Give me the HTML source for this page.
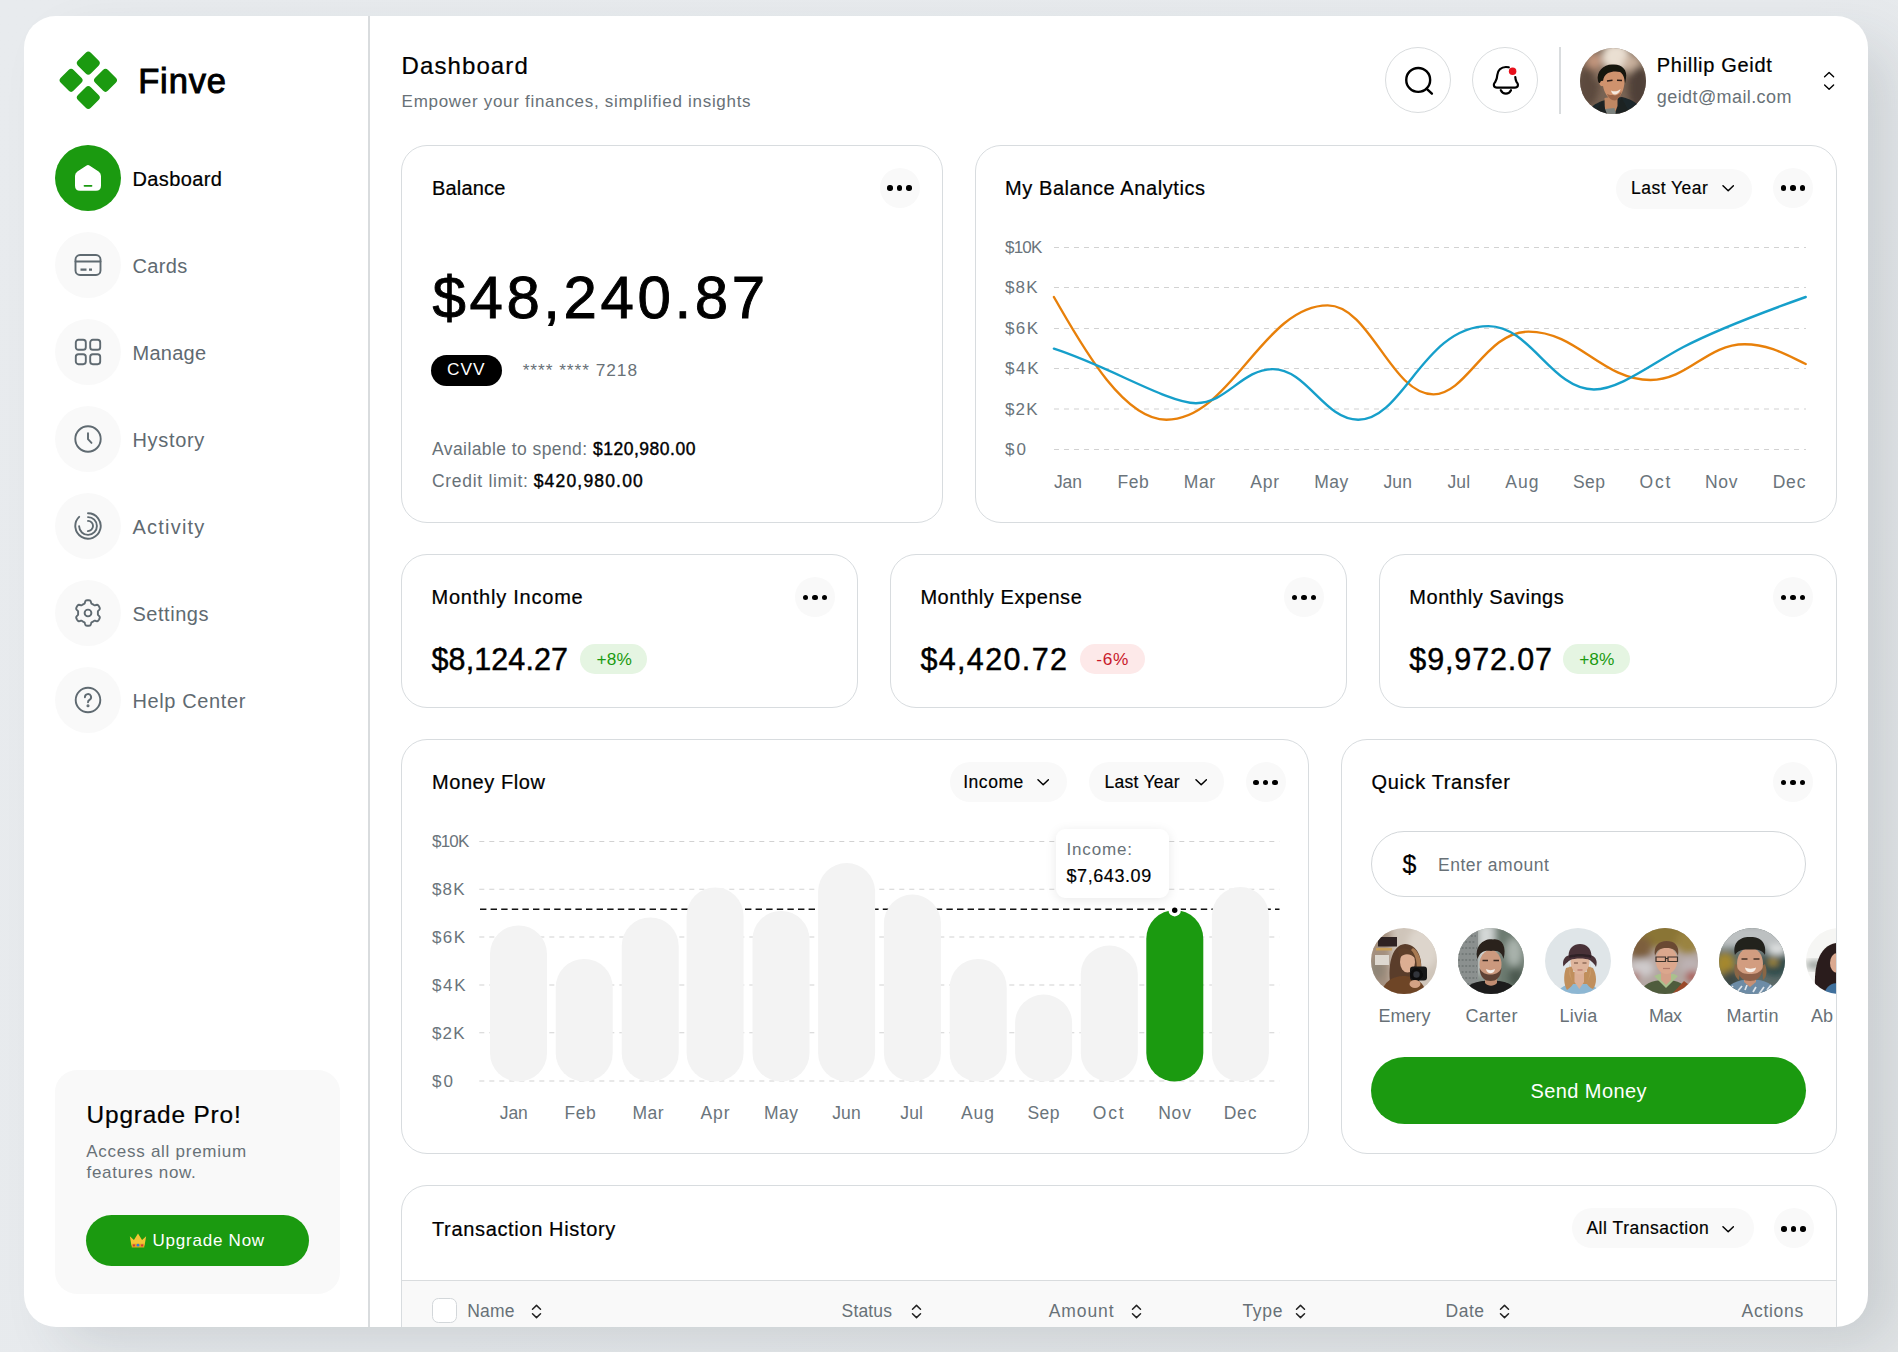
<!DOCTYPE html>
<html>
<head>
<meta charset="utf-8">
<title>Finve Dashboard</title>
<style>
*{box-sizing:border-box;margin:0;padding:0}
html,body{width:1898px;height:1352px;overflow:hidden}
body{font-family:"Liberation Sans",sans-serif;background:#e7eaed;position:relative;color:#000}
#bg{position:absolute;left:0;top:0;width:1898px;height:1352px;background:linear-gradient(135deg,#e8ebee 0%,#e7eaed 55%,#e2e5e7 100%)}
#panel{position:absolute;left:24px;top:16px;width:1844px;height:1311px;background:#fff;border-radius:32px;box-shadow:30px 22px 56px -8px rgba(50,60,70,.15);overflow:hidden}
#in{position:absolute;left:-24px;top:-16px;width:1898px;height:1352px}
#in div,#in span,#in svg,#in i{position:absolute}
.t{white-space:nowrap;line-height:1}
.card{border:1.5px solid #d8dcdf;border-radius:26px;background:#fff}
.dots{width:40px;height:40px;border-radius:50%;background:#f9f9f9}
.dots i{top:17.9px;width:5.400px;height:5.400px;border-radius:50%;background:#000}
.dots i:nth-child(1){left:7.800px}.dots i:nth-child(2){left:17.300px}.dots i:nth-child(3){left:26.800px}
.nav{left:55px;width:66px;height:66px;border-radius:50%;background:#f9f9f9}
.nav svg{left:19px;top:19px;width:28px;height:28px;fill:none;stroke:#5f6a71;stroke-width:1.9;stroke-linecap:round;stroke-linejoin:round}
.pill{height:40px;border-radius:20px;background:#f9f9f9}
</style>
</head>
<body>
<div id="bg"></div>
<div id="panel"><div id="in">
<!-- sidebar -->
<div style="left:368px;top:16px;width:1.5px;height:1312px;background:#d9dcde"></div>
<svg style="left:58px;top:50px;width:61px;height:61px" viewBox="0 0 61 61"><g fill="#1b9a10"><rect x="21.20" y="4.00" width="18.2" height="18.2" rx="3.6" transform="rotate(45 30.3 13.100000000000001)"/><rect x="4.00" y="21.20" width="18.2" height="18.2" rx="3.6" transform="rotate(45 13.100000000000001 30.3)"/><rect x="38.40" y="21.20" width="18.2" height="18.2" rx="3.6" transform="rotate(45 47.5 30.3)"/><rect x="21.20" y="38.40" width="18.2" height="18.2" rx="3.6" transform="rotate(45 30.3 47.5)"/></g></svg>
<span class="t" style="left:138.2px;top:64.0px;font-size:34.5px;color:#000;letter-spacing:0.86px;-webkit-text-stroke:0.95px #000;">Finve</span>
<div class="nav" style="top:144.8px;background:#1b9a10;"><svg viewBox="0 0 28 28" style="stroke:none;fill:#fff"><path d="M12.2 1.700Q14 .5 15.800 1.700L24.600 7.600Q27 9.200 27 12V21.800Q27 26.800 22 26.800H6Q1 26.800 1 21.800V12Q1 9.200 3.400 7.600Z"/><rect x="9.600" y="20.900" width="8.800" height="1.800" rx=".9" fill="#1b9a10"/></svg></div>
<span class="t" style="left:132.5px;top:168.5px;font-size:20px;color:#000;letter-spacing:0.37px;-webkit-text-stroke:0.22px #000;">Dasboard</span>
<div class="nav" style="top:231.8px;"><svg viewBox="0 0 28 28"><rect x="1.5" y="4" width="25" height="20" rx="4.5"/><path d="M1.5 10.5H26.5"/><path d="M6.5 18.6h6M15 18.6h3" stroke-width="2.2" stroke-linecap="butt"/></svg></div>
<span class="t" style="left:132.5px;top:255.5px;font-size:20px;color:#5f6a71;letter-spacing:0.34px;">Cards</span>
<div class="nav" style="top:318.8px;"><svg viewBox="0 0 28 28"><rect x="1.8" y="1.8" width="10" height="10" rx="2.6"/><rect x="16.2" y="1.8" width="10" height="10" rx="2.6"/><rect x="1.8" y="16.2" width="10" height="10" rx="2.6"/><rect x="16.2" y="16.2" width="10" height="10" rx="2.6"/></svg></div>
<span class="t" style="left:132.5px;top:342.5px;font-size:20px;color:#5f6a71;letter-spacing:0.26px;">Manage</span>
<div class="nav" style="top:405.8px;"><svg viewBox="0 0 28 28"><circle cx="14" cy="14" r="12.7"/><path d="M14 8.3V14.2L17.5 17.9"/></svg></div>
<span class="t" style="left:132.5px;top:429.5px;font-size:20px;color:#5f6a71;letter-spacing:0.67px;">Hystory</span>
<div class="nav" style="top:492.8px;"><svg viewBox="0 0 28 28"><path d="M14 1.30A12.7 12.7 0 1 1 5.18 4.86"/><path d="M14 5.10A8.9 8.9 0 1 1 5.11 14.31"/><path d="M14 8.90A5.1 5.1 0 1 1 13.82 19.10"/></svg></div>
<span class="t" style="left:132.5px;top:516.5px;font-size:20px;color:#5f6a71;letter-spacing:1.21px;">Activity</span>
<div class="nav" style="top:579.8px;"><svg viewBox="0 0 28 28"><circle cx="14" cy="14" r="3.4"/><path d="M23.90 14.00L23.89 13.48L23.87 12.96L23.89 12.43L24.15 11.84L24.96 11.06L25.72 10.19L25.84 9.45L25.67 8.80L25.40 8.19L25.09 7.60L24.73 7.03L24.33 6.49L23.86 6.02L23.16 5.75L22.03 5.97L20.94 6.29L20.30 6.22L19.83 5.97L19.39 5.69L18.95 5.43L18.50 5.17L18.04 4.93L17.59 4.65L17.21 4.13L16.94 3.04L16.56 1.94L15.98 1.47L15.34 1.30L14.67 1.22L14.00 1.20L13.33 1.22L12.66 1.30L12.02 1.47L11.44 1.94L11.06 3.04L10.79 4.13L10.41 4.65L9.96 4.93L9.50 5.17L9.05 5.43L8.61 5.69L8.17 5.97L7.70 6.22L7.06 6.29L5.97 5.97L4.84 5.75L4.14 6.02L3.67 6.49L3.27 7.03L2.91 7.60L2.60 8.19L2.33 8.80L2.16 9.45L2.28 10.19L3.04 11.06L3.85 11.84L4.11 12.43L4.13 12.96L4.11 13.48L4.10 14.00L4.11 14.52L4.13 15.04L4.11 15.57L3.85 16.16L3.04 16.94L2.28 17.81L2.16 18.55L2.33 19.20L2.60 19.81L2.91 20.40L3.27 20.97L3.67 21.51L4.14 21.98L4.84 22.25L5.97 22.03L7.06 21.71L7.70 21.78L8.17 22.03L8.61 22.31L9.05 22.57L9.50 22.83L9.96 23.07L10.41 23.35L10.79 23.87L11.06 24.96L11.44 26.06L12.02 26.53L12.66 26.70L13.33 26.78L14.00 26.80L14.67 26.78L15.34 26.70L15.98 26.53L16.56 26.06L16.94 24.96L17.21 23.87L17.59 23.35L18.04 23.07L18.50 22.83L18.95 22.57L19.39 22.31L19.83 22.03L20.30 21.78L20.94 21.71L22.03 22.03L23.16 22.25L23.86 21.98L24.33 21.51L24.73 20.97L25.09 20.40L25.40 19.81L25.67 19.20L25.84 18.55L25.72 17.81L24.96 16.94L24.15 16.16L23.89 15.57L23.87 15.04L23.89 14.52Z"/></svg></div>
<span class="t" style="left:132.5px;top:603.5px;font-size:20px;color:#5f6a71;letter-spacing:0.53px;">Settings</span>
<div class="nav" style="top:666.8px;"><svg viewBox="0 0 28 28"><circle cx="14" cy="14" r="12.3"/><path d="M10.9 11.2a3.1 3.1 0 1 1 4.6 2.7c-1 .6-1.5 1.2-1.5 2.3"/><circle cx="14" cy="19.8" r=".6" fill="#5f6a71"/></svg></div>
<span class="t" style="left:132.5px;top:690.5px;font-size:20px;color:#5f6a71;letter-spacing:0.62px;">Help Center</span>
<div style="left:55px;top:1070px;width:285px;height:224px;border-radius:22px;background:#f9f9f9"></div>
<span class="t" style="left:86.6px;top:1103.4px;font-size:24.4px;color:#000;letter-spacing:0.82px;-webkit-text-stroke:0.22px #000;">Upgrade Pro!</span>
<span class="t" style="left:86.2px;top:1142.5px;font-size:17px;color:#687177;letter-spacing:0.74px;">Access all premium</span>
<span class="t" style="left:86.6px;top:1164.0px;font-size:17px;color:#687177;letter-spacing:0.67px;">features now.</span>
<div style="left:86px;top:1215px;width:222.5px;height:50.5px;border-radius:25.5px;background:#1b9a10"></div>
<span class="t" style="left:152.5px;top:1231.6px;font-size:17px;color:#fff;letter-spacing:0.77px;">Upgrade Now</span>
<svg style="left:128.5px;top:1232.5px;width:18px;height:15.5px" viewBox="0 0 18 16"><path d="M.6 3.4l4.2 3.800L9 .6l4.200 6.600 4.200-3.800L15.800 13H2.200z" fill="#f4c534"/><path d="M2.200 11h13.600l-.4 4H2.600z" fill="#e0a126"/><circle cx="9" cy="12.600" r="1.400" fill="#2f7fd6"/><circle cx="4.800" cy="12.800" r="1.100" fill="#d8343b"/><circle cx="13.200" cy="12.800" r="1.100" fill="#d8343b"/></svg>
<!-- header -->
<span class="t" style="left:401.6px;top:53.7px;font-size:24px;color:#000;letter-spacing:1.09px;-webkit-text-stroke:0.22px #000;">Dashboard</span>
<span class="t" style="left:401.6px;top:93.1px;font-size:17px;color:#687177;letter-spacing:0.70px;">Empower your finances, simplified insights</span>
<div style="left:1385px;top:47px;width:66px;height:66px;border-radius:50%;border:1.5px solid #d9dcde"></div>
<svg style="left:1385.5px;top:47px;width:66px;height:66px;fill:none;stroke:#000;stroke-width:2.4;stroke-linecap:round" viewBox="0 0 66 66"><circle cx="32.2" cy="32.9" r="11.95"/><path d="M41.300 42.300L45.900 46.700"/></svg>
<div style="left:1472px;top:47px;width:66px;height:66px;border-radius:50%;border:1.5px solid #d9dcde"></div>
<svg style="left:1472.500px;top:47px;width:66px;height:66px;fill:none;stroke:#000;stroke-width:2.200;stroke-linecap:round;stroke-linejoin:round" viewBox="0 0 66 66"><path d="M35.800 20.300C34.900 20.100 33.900 20 32.900 20C28 20 24.600 23.500 24.300 28C24.100 31.500 23.500 33 22.300 34.800C21.300 36.300 20.400 37.200 20.900 38.600C21.400 40.200 22.600 40.600 24 40.600H41.800C43.200 40.600 44.400 40.200 44.900 38.600C45.400 37.200 44.500 36.300 43.500 34.800C42.700 33.500 42.400 32 42.300 30"/><path d="M27.800 43.200C28.900 45.500 30.700 46.700 32.900 46.700C35.100 46.700 36.900 45.500 38 43.200"/><circle cx="39.600" cy="24.200" r="3.750" fill="#e8101c" stroke="none"/></svg>
<div style="left:1559px;top:47px;width:1.5px;height:67px;background:#d9dcde"></div>
<svg style="left:1580.0px;top:47.5px;width:66px;height:66px" viewBox="0 0 66 66"><defs><clipPath id="cP"><circle cx="33" cy="33" r="33"/></clipPath><filter id="fP" x="-20%" y="-20%" width="140%" height="140%"><feGaussianBlur stdDeviation="0.55"/></filter><filter id="gP" x="-30%" y="-30%" width="160%" height="160%"><feGaussianBlur stdDeviation="3.5"/></filter></defs><g clip-path="url(#cP)"><rect width="66" height="66" fill="#7a6555"/>
<g filter="url(#gP)"><ellipse cx="36" cy="9" rx="14" ry="14" fill="#eadfd2"/><ellipse cx="52" cy="16" rx="9" ry="9" fill="#c9b19d"/><ellipse cx="8" cy="38" rx="11" ry="20" fill="#5b493c"/><ellipse cx="59" cy="40" rx="11" ry="22" fill="#4f4037"/><ellipse cx="14" cy="13" rx="8" ry="8" fill="#c2957d"/><ellipse cx="20" cy="26" rx="6" ry="6" fill="#8d7563"/></g>
<g filter="url(#fP)"><path d="M8 66C10 58 15 56 22 53L33 50L42 49C50 51 57 54 60 60V66Z" fill="#1f2729"/>
<path d="M24.500 50L37.500 48V58L34.500 66H25Z" fill="#bf8763"/><path d="M25 61L34.500 60L36 66H24Z" fill="#7c827e"/>
<path d="M22 53L27 66H14ZM41.500 49.500L35.500 66H50Z" fill="#1a2122"/>
<path d="M23 31C22 24 30 21.500 35 22C41 22 45 26 44.500 33C44.500 41 41 50 34.500 52.500C28 52 24 44 23 38C20 39 18.500 35 20 33.500C21 32.500 22.500 33 23 31Z" fill="#cf926d"/>
<path d="M33 47C36 48.500 40 46 41.500 43C41 48 38 52 34.500 52.500C31 52.500 28 49 27 46C29 47 31 47 33 47Z" fill="#9a6549"/>
<path d="M18 33C16 23 24 16 33 16.500C42 16 47.500 22 46 30C45.600 32.500 45.500 34 45 35C44.500 29 43 26 40 24C36 23 31 23.500 28 25C25 26.500 23.500 29.500 23 33C21.500 32.500 20.500 33 20 35C19 35 18.500 34.500 18 33Z" fill="#17120f"/>
<path d="M31 42.500C34 44 38 43.500 40.500 41C40 44.500 37 46.500 34.500 46.500C32.500 46.500 31.500 44.500 31 42.500Z" fill="#f4e8de"/>
<path d="M27 33l5.500-.8M37 32.200l5 .3" stroke="#2e1c14" stroke-width="1.500"/></g></g></svg>
<span class="t" style="left:1656.8px;top:55.1px;font-size:20px;color:#000;letter-spacing:0.69px;-webkit-text-stroke:0.22px #000;">Phillip Geidt</span>
<span class="t" style="left:1656.8px;top:88.3px;font-size:18px;color:#687177;letter-spacing:0.41px;">geidt@mail.com</span>
<svg style="left:1822px;top:70px;width:14px;height:22px;fill:none;stroke:#000;stroke-width:1.4;stroke-linecap:round;stroke-linejoin:round" viewBox="0 0 14 22"><path d="M2.600 6.800L7.100 2.600l4.500 4.200M2.600 15l4.500 4.200 4.500-4.200"/></svg>
<!-- balance -->
<div class="card" style="left:401px;top:145px;width:542px;height:378px;"></div>
<span class="t" style="left:432.0px;top:177.9px;font-size:20px;color:#000;letter-spacing:0.17px;-webkit-text-stroke:0.22px #000;">Balance</span>
<div class="dots" style="left:879.5px;top:167.5px"><i></i><i></i><i></i></div>
<span class="t" style="left:432.5px;top:267.7px;font-size:60px;color:#000;letter-spacing:3.58px;-webkit-text-stroke:0.9px #000;">$48,240.87</span>
<div style="left:431.4px;top:354.5px;width:70.7px;height:31px;border-radius:15.5px;background:#000"></div>
<span class="t" style="left:447.0px;top:361.1px;font-size:17.3px;color:#fff;letter-spacing:0.96px;">CVV</span>
<span class="t" style="left:522.7px;top:361.5px;font-size:17.3px;color:#687177;letter-spacing:0.96px;">**** **** 7218</span>
<span class="t" style="left:432.0px;top:441.0px;font-size:17.5px;color:#687177;letter-spacing:0.42px;">Available to spend:</span>
<span class="t" style="left:593.0px;top:441.0px;font-size:17.5px;color:#000;letter-spacing:0.51px;-webkit-text-stroke:0.4px #000;">$120,980.00</span>
<span class="t" style="left:432.0px;top:473.1px;font-size:17.5px;color:#687177;letter-spacing:0.70px;">Credit limit:</span>
<span class="t" style="left:533.7px;top:473.1px;font-size:17.5px;color:#000;letter-spacing:1.18px;-webkit-text-stroke:0.4px #000;">$420,980.00</span>
<!-- analytics -->
<div class="card" style="left:975px;top:145px;width:862px;height:378px;"></div>
<span class="t" style="left:1005.0px;top:178.1px;font-size:20px;color:#000;letter-spacing:0.58px;-webkit-text-stroke:0.22px #000;">My Balance Analytics</span>
<div class="pill" style="left:1616px;top:168.5px;width:136px"></div>
<span class="t" style="left:1631.0px;top:179.7px;font-size:17.5px;color:#000;letter-spacing:0.48px;-webkit-text-stroke:0.18px #000;">Last Year</span>
<svg style="left:1721.5px;top:184.3px;width:12.400px;height:8px;fill:none;stroke:#000;stroke-width:1.500;stroke-linecap:round;stroke-linejoin:round" viewBox="0 0 12.400 8"><path d="M1 1.800L6.200 6.800 11.400 1.800"/></svg>
<div class="dots" style="left:1773.0px;top:167.5px"><i></i><i></i><i></i></div>
<svg style="left:0;top:0;width:1898px;height:560px" viewBox="0 0 1898 560" fill="none"><path d="M1054 247.5H1806" stroke="#d2d2d2" stroke-width="1.1" stroke-dasharray="5 5"/><path d="M1054 287.5H1806" stroke="#d2d2d2" stroke-width="1.1" stroke-dasharray="5 5"/><path d="M1054 328.5H1806" stroke="#d2d2d2" stroke-width="1.1" stroke-dasharray="5 5"/><path d="M1054 368.5H1806" stroke="#d2d2d2" stroke-width="1.1" stroke-dasharray="5 5"/><path d="M1054 409H1806" stroke="#d2d2d2" stroke-width="1.1" stroke-dasharray="5 5"/><path d="M1054 449.5H1806" stroke="#d2d2d2" stroke-width="1.1" stroke-dasharray="5 5"/><path d="M1053.9 297C1078.9 340 1121.4 419.7 1166.4 419.7C1230.9 419.7 1263.2 305.4 1327.7 305.4C1370.0 305.4 1391.2 394.4 1433.5 394.4C1466.8 394.4 1485.8 331.6 1528.5 331.6C1577.3 331.6 1601.7 380.0 1650.5 380.0C1688.1 380.0 1706.9 344.2 1744.5 344.2C1769.5 344.2 1787.7 355.5 1805.7 364" stroke="#e8800a" stroke-width="2.4" stroke-linecap="round"/><path d="M1053.9 348.7C1108.9 366.3 1168 403.2 1196 403.2C1226.8 403.2 1242.1 369.1 1272.9 369.1C1307.0 369.1 1324.1 419.7 1358.2 419.7C1403.8 419.7 1423.3 326.1 1488.5 326.1C1530.7 326.1 1551.7 389.5 1593.9 389.5C1619.9 389.5 1653.4 362.6 1683.4 347C1713.4 331.4 1765.7 311.3 1805.7 297" stroke="#169fca" stroke-width="2.4" stroke-linecap="round"/></svg>
<span class="t" style="left:1005.0px;top:239.2px;font-size:17px;color:#6a747b;letter-spacing:-0.80px;">$10K</span>
<span class="t" style="left:1005.0px;top:279.2px;font-size:17px;color:#6a747b;letter-spacing:1.13px;">$8K</span>
<span class="t" style="left:1005.0px;top:320.2px;font-size:17px;color:#6a747b;letter-spacing:1.38px;">$6K</span>
<span class="t" style="left:1005.0px;top:360.2px;font-size:17px;color:#6a747b;letter-spacing:1.63px;">$4K</span>
<span class="t" style="left:1005.0px;top:400.7px;font-size:17px;color:#6a747b;letter-spacing:1.13px;">$2K</span>
<span class="t" style="left:1005.0px;top:441.2px;font-size:17px;color:#6a747b;letter-spacing:2.09px;">$0</span>
<span class="t" style="left:1053.9px;top:473.7px;font-size:17.5px;color:#6a747b;letter-spacing:-0.11px;">Jan</span>
<span class="t" style="left:1117.4px;top:473.7px;font-size:17.5px;color:#6a747b;letter-spacing:0.57px;">Feb</span>
<span class="t" style="left:1183.8px;top:473.7px;font-size:17.5px;color:#6a747b;letter-spacing:0.58px;">Mar</span>
<span class="t" style="left:1250.2px;top:473.7px;font-size:17.5px;color:#6a747b;letter-spacing:0.83px;">Apr</span>
<span class="t" style="left:1314.2px;top:473.7px;font-size:17.5px;color:#6a747b;letter-spacing:0.52px;">May</span>
<span class="t" style="left:1383.4px;top:473.7px;font-size:17.5px;color:#6a747b;letter-spacing:0.14px;">Jun</span>
<span class="t" style="left:1447.4px;top:473.7px;font-size:17.5px;color:#6a747b;letter-spacing:0.21px;">Jul</span>
<span class="t" style="left:1505.3px;top:473.7px;font-size:17.5px;color:#6a747b;letter-spacing:1.03px;">Aug</span>
<span class="t" style="left:1573.1px;top:473.7px;font-size:17.5px;color:#6a747b;letter-spacing:0.33px;">Sep</span>
<span class="t" style="left:1639.5px;top:473.7px;font-size:17.5px;color:#6a747b;letter-spacing:1.79px;">Oct</span>
<span class="t" style="left:1704.9px;top:473.7px;font-size:17.5px;color:#6a747b;letter-spacing:0.79px;">Nov</span>
<span class="t" style="left:1772.7px;top:473.7px;font-size:17.5px;color:#6a747b;letter-spacing:0.79px;">Dec</span>
<!-- stats -->
<div class="card" style="left:401px;top:554.3px;width:457px;height:153.6px;"></div>
<span class="t" style="left:431.5px;top:587.1px;font-size:20px;color:#000;letter-spacing:0.77px;-webkit-text-stroke:0.22px #000;">Monthly Income</span>
<div class="dots" style="left:795.0px;top:577.0px"><i></i><i></i><i></i></div>
<span class="t" style="left:431.5px;top:643.7px;font-size:30.5px;color:#000;letter-spacing:0.10px;-webkit-text-stroke:0.45px #000;">$8,124.27</span>
<div style="left:580.4px;top:643.7px;width:67px;height:30.5px;border-radius:15.3px;background:#e5f5e2"></div>
<span class="t" style="left:596.6px;top:650.6px;font-size:17.3px;color:#1b9a10;letter-spacing:0.05px;">+8%</span>
<div class="card" style="left:890px;top:554.3px;width:457px;height:153.6px;"></div>
<span class="t" style="left:920.4px;top:587.1px;font-size:20px;color:#000;letter-spacing:0.57px;-webkit-text-stroke:0.22px #000;">Monthly Expense</span>
<div class="dots" style="left:1284.0px;top:577.0px"><i></i><i></i><i></i></div>
<span class="t" style="left:920.4px;top:643.7px;font-size:30.5px;color:#000;letter-spacing:1.36px;-webkit-text-stroke:0.45px #000;">$4,420.72</span>
<div style="left:1079.5px;top:643.7px;width:65px;height:30.5px;border-radius:15.3px;background:#fde9e9"></div>
<span class="t" style="left:1096.2px;top:650.6px;font-size:17.3px;color:#c8182a;letter-spacing:0.72px;">-6%</span>
<div class="card" style="left:1379px;top:554.3px;width:457.5px;height:153.6px;"></div>
<span class="t" style="left:1409.3px;top:587.1px;font-size:20px;color:#000;letter-spacing:0.55px;-webkit-text-stroke:0.22px #000;">Monthly Savings</span>
<div class="dots" style="left:1773.0px;top:577.0px"><i></i><i></i><i></i></div>
<span class="t" style="left:1409.3px;top:643.7px;font-size:30.5px;color:#000;letter-spacing:0.88px;-webkit-text-stroke:0.45px #000;">$9,972.07</span>
<div style="left:1563px;top:643.7px;width:67px;height:30.5px;border-radius:15.3px;background:#e5f5e2"></div>
<span class="t" style="left:1579.2px;top:650.6px;font-size:17.3px;color:#1b9a10;letter-spacing:0.05px;">+8%</span>
<!-- money flow -->
<div class="card" style="left:401px;top:739.3px;width:908px;height:414.6px;"></div>
<span class="t" style="left:432.0px;top:771.7px;font-size:20px;color:#000;letter-spacing:0.56px;-webkit-text-stroke:0.22px #000;">Money Flow</span>
<div class="pill" style="left:949.5px;top:762.3px;width:117px"></div>
<span class="t" style="left:963.2px;top:773.7px;font-size:17.5px;color:#000;letter-spacing:0.54px;-webkit-text-stroke:0.18px #000;">Income</span>
<svg style="left:1037px;top:778px;width:12.400px;height:8px;fill:none;stroke:#000;stroke-width:1.500;stroke-linecap:round;stroke-linejoin:round" viewBox="0 0 12.400 8"><path d="M1 1.800L6.200 6.800 11.400 1.800"/></svg>
<div class="pill" style="left:1088.5px;top:762.3px;width:135px"></div>
<span class="t" style="left:1104.4px;top:773.7px;font-size:17.5px;color:#000;letter-spacing:0.28px;-webkit-text-stroke:0.18px #000;">Last Year</span>
<svg style="left:1194.5px;top:778px;width:12.400px;height:8px;fill:none;stroke:#000;stroke-width:1.500;stroke-linecap:round;stroke-linejoin:round" viewBox="0 0 12.400 8"><path d="M1 1.800L6.200 6.800 11.400 1.800"/></svg>
<div class="dots" style="left:1245.6px;top:762.1px"><i></i><i></i><i></i></div>
<svg style="left:0;top:700px;width:1898px;height:460px" viewBox="0 700 1898 460" fill="none"><path d="M479.300 841.5H1279.500" stroke="#d2d2d2" stroke-width="1.1" stroke-dasharray="5 5"/><path d="M479.300 889.3H1279.500" stroke="#d2d2d2" stroke-width="1.1" stroke-dasharray="5 5"/><path d="M479.300 937H1279.500" stroke="#d2d2d2" stroke-width="1.1" stroke-dasharray="5 5"/><path d="M479.300 985H1279.500" stroke="#d2d2d2" stroke-width="1.1" stroke-dasharray="5 5"/><path d="M479.300 1032.8H1279.500" stroke="#d2d2d2" stroke-width="1.1" stroke-dasharray="5 5"/><path d="M479.300 1081H1279.500" stroke="#d2d2d2" stroke-width="1.1" stroke-dasharray="5 5"/><path d="M480 909.3H1279.5" stroke="#111" stroke-width="1.4" stroke-dasharray="6.400 4.200"/><rect x="490.0" y="925.4" width="57" height="156.1" rx="28.5" fill="#f3f3f3"/><rect x="555.7" y="958.9" width="57" height="122.6" rx="28.5" fill="#f3f3f3"/><rect x="621.7" y="917.4" width="57" height="164.1" rx="28.5" fill="#f3f3f3"/><rect x="686.6" y="887.4" width="57" height="194.1" rx="28.5" fill="#f3f3f3"/><rect x="752.5" y="910.9" width="57" height="170.6" rx="28.5" fill="#f3f3f3"/><rect x="818.1" y="863.1" width="57" height="218.4" rx="28.5" fill="#f3f3f3"/><rect x="883.9" y="894.6" width="57" height="186.9" rx="28.5" fill="#f3f3f3"/><rect x="949.7" y="958.9" width="57" height="122.6" rx="28.5" fill="#f3f3f3"/><rect x="1015.1" y="994.5" width="57" height="87.0" rx="28.5" fill="#f3f3f3"/><rect x="1080.8" y="945.5" width="57" height="136.0" rx="28.5" fill="#f3f3f3"/><rect x="1146.3" y="910.2" width="57" height="171.3" rx="28.5" fill="#1b9a10"/><rect x="1211.9" y="887.1" width="57" height="194.4" rx="28.5" fill="#f3f3f3"/><circle cx="1174.700" cy="910.200" r="6.200" fill="#fff"/><circle cx="1174.700" cy="910.200" r="2.700" fill="#000"/></svg>
<span class="t" style="left:432.0px;top:833.2px;font-size:17px;color:#6a747b;letter-spacing:-0.80px;">$10K</span>
<span class="t" style="left:432.0px;top:881.0px;font-size:17px;color:#6a747b;letter-spacing:1.13px;">$8K</span>
<span class="t" style="left:432.0px;top:928.7px;font-size:17px;color:#6a747b;letter-spacing:1.38px;">$6K</span>
<span class="t" style="left:432.0px;top:976.7px;font-size:17px;color:#6a747b;letter-spacing:1.63px;">$4K</span>
<span class="t" style="left:432.0px;top:1024.5px;font-size:17px;color:#6a747b;letter-spacing:1.13px;">$2K</span>
<span class="t" style="left:432.0px;top:1072.7px;font-size:17px;color:#6a747b;letter-spacing:2.09px;">$0</span>
<span class="t" style="left:499.8px;top:1104.8px;font-size:17.5px;color:#6a747b;letter-spacing:-0.11px;">Jan</span>
<span class="t" style="left:564.4px;top:1104.8px;font-size:17.5px;color:#6a747b;letter-spacing:0.57px;">Feb</span>
<span class="t" style="left:632.4px;top:1104.8px;font-size:17.5px;color:#6a747b;letter-spacing:0.58px;">Mar</span>
<span class="t" style="left:700.6px;top:1104.8px;font-size:17.5px;color:#6a747b;letter-spacing:0.83px;">Apr</span>
<span class="t" style="left:764.0px;top:1104.8px;font-size:17.5px;color:#6a747b;letter-spacing:0.52px;">May</span>
<span class="t" style="left:832.2px;top:1104.8px;font-size:17.5px;color:#6a747b;letter-spacing:0.14px;">Jun</span>
<span class="t" style="left:900.2px;top:1104.8px;font-size:17.5px;color:#6a747b;letter-spacing:0.21px;">Jul</span>
<span class="t" style="left:960.9px;top:1104.8px;font-size:17.5px;color:#6a747b;letter-spacing:1.03px;">Aug</span>
<span class="t" style="left:1027.6px;top:1104.8px;font-size:17.5px;color:#6a747b;letter-spacing:0.33px;">Sep</span>
<span class="t" style="left:1092.8px;top:1104.8px;font-size:17.5px;color:#6a747b;letter-spacing:1.79px;">Oct</span>
<span class="t" style="left:1158.2px;top:1104.8px;font-size:17.5px;color:#6a747b;letter-spacing:0.79px;">Nov</span>
<span class="t" style="left:1223.7px;top:1104.8px;font-size:17.5px;color:#6a747b;letter-spacing:0.79px;">Dec</span>
<div style="left:1056px;top:828.5px;width:112.5px;height:69px;border-radius:9px;background:#fff;box-shadow:0 2px 12px rgba(0,0,0,.09)"></div>
<span class="t" style="left:1066.5px;top:840.6px;font-size:17px;color:#687177;letter-spacing:0.82px;">Income:</span>
<span class="t" style="left:1066.5px;top:866.8px;font-size:18px;color:#000;letter-spacing:0.58px;-webkit-text-stroke:0.18px #000;">$7,643.09</span>
<!-- quick transfer -->
<div class="card" style="left:1341px;top:739.3px;width:496px;height:414.6px;"></div>
<span class="t" style="left:1371.5px;top:772.4px;font-size:20px;color:#000;letter-spacing:0.64px;-webkit-text-stroke:0.22px #000;">Quick Transfer</span>
<div class="dots" style="left:1773.0px;top:762.0px"><i></i><i></i><i></i></div>
<div style="left:1371px;top:831px;width:435px;height:66px;border-radius:33px;border:1.5px solid #d3d7da"></div>
<span class="t" style="left:1402.5px;top:852.1px;font-size:25px;color:#000;-webkit-text-stroke:0.22px #000;">$</span>
<span class="t" style="left:1438.0px;top:856.6px;font-size:17.5px;color:#687177;letter-spacing:0.52px;">Enter amount</span>
<svg style="left:1371.4px;top:928.2px;width:66px;height:66px" viewBox="0 0 66 66"><defs><clipPath id="cE"><circle cx="33" cy="33" r="33"/></clipPath><filter id="fE" x="-20%" y="-20%" width="140%" height="140%"><feGaussianBlur stdDeviation="0.55"/></filter><filter id="gE" x="-30%" y="-30%" width="160%" height="160%"><feGaussianBlur stdDeviation="3.5"/></filter></defs><g clip-path="url(#cE)"><rect width="66" height="66" fill="#cfc5ba"/>
<g filter="url(#gE)"><rect x="-4" y="0" width="24" height="66" fill="#a4907f"/><ellipse cx="52" cy="20" rx="16" ry="22" fill="#ddd5cc"/><ellipse cx="6" cy="42" rx="8" ry="10" fill="#8f8577"/></g>
<g filter="url(#fE)"><rect x="7" y="9" width="19" height="9.500" fill="#2d2420"/><rect x="5" y="20" width="16" height="2.500" fill="#c9a05a"/><rect x="4" y="27" width="14" height="10" fill="#ded8d0"/>
<path d="M20 60C16 40 20 17 34 16C46 16 52 30 50 44C49 54 44 58 40 60Z" fill="#5a3d2b"/>
<path d="M42 20C49 24 52 36 49 48L45 46C47 36 45 27 40 22Z" fill="#a87a52"/>
<ellipse cx="36.500" cy="34" rx="7.500" ry="10.500" fill="#dcae92"/>
<path d="M27 22C33 18 42 21 44 30C40 26 34 24 28 30Z" fill="#5e402c"/>
<path d="M10 66C12 54 22 48 32 48C42 48 52 52 56 66Z" fill="#6e4527"/>
<rect x="39" y="38.500" width="17" height="14" rx="3" fill="#191818"/><circle cx="45.500" cy="46.500" r="6.500" fill="#0f0f0f"/><circle cx="45.500" cy="46.500" r="3.200" fill="#30343a"/>
<ellipse cx="44" cy="56" rx="5.500" ry="4" fill="#d4a284"/></g></g></svg>
<svg style="left:1458.4px;top:928.2px;width:66px;height:66px" viewBox="0 0 66 66"><defs><clipPath id="cC"><circle cx="33" cy="33" r="33"/></clipPath><filter id="fC" x="-20%" y="-20%" width="140%" height="140%"><feGaussianBlur stdDeviation="0.55"/></filter><filter id="gC" x="-30%" y="-30%" width="160%" height="160%"><feGaussianBlur stdDeviation="3.5"/></filter></defs><g clip-path="url(#cC)"><rect width="66" height="66" fill="#8a938d"/>
<g filter="url(#gC)"><rect x="20" y="-4" width="16" height="50" fill="#d4d8d7"/><rect x="38" y="-4" width="32" height="74" fill="#6c7a70"/><ellipse cx="56" cy="24" rx="8" ry="14" fill="#a9b2ac"/><ellipse cx="58" cy="50" rx="8" ry="10" fill="#4c584f"/></g>
<rect x="-2" y="0" width="22" height="66" fill="#8b908f"/><path d="M2 8h16M0 14h18M0 20h19M0 26h19M0 32h19M0 38h19M0 44h19M0 50h19M2 56h17" stroke="#6f7574" stroke-width="1.300" stroke-dasharray="2 1.600" filter="url(#fC)"/>
<g filter="url(#fC)"><path d="M6 66C8 56 18 52.500 33 52.500C48 52.500 56 56 60 66Z" fill="#1a1a1a"/>
<path d="M27 46h12v9c-3 3.500-9 3.500-12 0z" fill="#c08d72"/>
<ellipse cx="32.500" cy="36.500" rx="11" ry="14.500" fill="#cb997e"/>
<path d="M21.500 40C22 50 27 53 32.500 53C38 53 43 50 43.500 40C41 45 37 46.500 32.500 46.500C28 46.500 24 45 21.500 40Z" fill="#5f4335"/>
<path d="M19.500 31C16 18 26 10 35 11.500C44 10 49 19 45.500 31C44 25 41 22 33 23C26 22 22 24 19.500 31Z" fill="#2a201a"/>
<path d="M28 41C30.500 42.500 34.500 42.500 37 41C36.500 44 34.500 45.300 32.500 45.300C30.500 45.300 28.500 44 28 41Z" fill="#f4ece6"/>
<path d="M24.500 32.500h5.500M35.500 32.500h5.500" stroke="#3a2a22" stroke-width="1.500"/></g></g></svg>
<svg style="left:1545.4px;top:928.2px;width:66px;height:66px" viewBox="0 0 66 66"><defs><clipPath id="cL"><circle cx="33" cy="33" r="33"/></clipPath><filter id="fL" x="-20%" y="-20%" width="140%" height="140%"><feGaussianBlur stdDeviation="0.55"/></filter><filter id="gL" x="-30%" y="-30%" width="160%" height="160%"><feGaussianBlur stdDeviation="3.5"/></filter></defs><g clip-path="url(#cL)"><rect width="66" height="66" fill="#dfe5e8"/>
<g filter="url(#fL)"><path d="M12 66C14 59 22 56 30 55L38 55C46 56 53 59 55 66Z" fill="#8db7d3"/>
<path d="M21 40C18 48 19 57 22 62C25 60 28 57 29 54L28 38ZM48 40C52 47 52 56 48 61C45 60 42 57 41 54L42 38Z" fill="#c08f5c"/>
<path d="M24 44h21v12H24z" fill="#c08f5c"/><path d="M29.500 44h9.500v10l-4.700 7-4.800-7z" fill="#dcb097"/>
<path d="M25.500 33C25.500 27 30 25 35 25C40 25 44.500 27 44.500 33C44.500 40 40 46.500 35 46.500C30 46.500 25.500 40 25.500 33Z" fill="#deb59c"/>
<path d="M25 35C25 44 26 50 28 55L24 46ZM45 35C45.500 44 44 50 42 55L46 46Z" fill="#c99a68"/>
<path d="M18.500 38.500C17 33 19.500 28.500 23.500 27.500C24 20 28.500 16 35 16C41.500 16 46 20 46.500 27.500C50.500 28.500 53 33 51 39C49 35 45.500 32.500 44.500 32C41 30 29 30 25.500 32C24.500 32.500 21 35 18.500 38.500Z" fill="#493239"/>
<path d="M24 27.500C30 25.500 40 25.500 46.500 27.500L46 30C40 28 30 28 24.500 30Z" fill="#2f2026"/>
<path d="M29 35h4M37.500 35h4" stroke="#6a4a3a" stroke-width="1.100"/><path d="M32.500 42h5" stroke="#b9776a" stroke-width="1.300"/></g></g></svg>
<svg style="left:1632.4px;top:928.2px;width:66px;height:66px" viewBox="0 0 66 66"><defs><clipPath id="cM"><circle cx="33" cy="33" r="33"/></clipPath><filter id="fM" x="-20%" y="-20%" width="140%" height="140%"><feGaussianBlur stdDeviation="0.55"/></filter><filter id="gM" x="-30%" y="-30%" width="160%" height="160%"><feGaussianBlur stdDeviation="3.5"/></filter></defs><g clip-path="url(#cM)"><rect width="66" height="66" fill="#b3a6a2"/>
<g filter="url(#gM)"><ellipse cx="30" cy="4" rx="40" ry="16" fill="#8a7434"/><ellipse cx="8" cy="20" rx="12" ry="12" fill="#7d5e3e"/><ellipse cx="56" cy="14" rx="12" ry="12" fill="#9a8340"/><ellipse cx="10" cy="40" rx="12" ry="9" fill="#cfcbcc"/><ellipse cx="58" cy="38" rx="10" ry="9" fill="#bdb3b4"/><ellipse cx="60" cy="48" rx="6" ry="5" fill="#a84a40"/><ellipse cx="3" cy="48" rx="5" ry="4" fill="#a5564c"/></g>
<g filter="url(#fM)"><path d="M8 66C10 56 20 52 33 52C46 52 54 56 58 66Z" fill="#505c3c"/>
<path d="M22 48L34 60L46 48L42 46H27Z" fill="#a9c08d"/>
<path d="M29 42h10v10l-5 5-5-5z" fill="#d4a088"/>
<path d="M52 53L40 66H47L56 56Z" fill="#9a4a2a"/>
<ellipse cx="34.500" cy="32.500" rx="10.800" ry="13.500" fill="#dba78d"/>
<path d="M23 28C21 18 27 13 34.500 13C42 13 48 17 46 28C44 22 41 20 34.500 20C28 20 25 22 23 28Z" fill="#6a4a33"/>
<path d="M24 29h9.500v4.500H24zM36 29h9.500v4.500H36zM33.500 30.500h2.500" fill="none" stroke="#3b302b" stroke-width="1.200"/>
<path d="M31 40.500h7" stroke="#b07868" stroke-width="1.200"/></g></g></svg>
<svg style="left:1719.4px;top:928.2px;width:66px;height:66px" viewBox="0 0 66 66"><defs><clipPath id="cT"><circle cx="33" cy="33" r="33"/></clipPath><filter id="fT" x="-20%" y="-20%" width="140%" height="140%"><feGaussianBlur stdDeviation="0.55"/></filter><filter id="gT" x="-30%" y="-30%" width="160%" height="160%"><feGaussianBlur stdDeviation="3.5"/></filter></defs><g clip-path="url(#cT)"><rect width="66" height="66" fill="#5d6b69"/>
<g filter="url(#gT)"><rect x="-4" y="-4" width="74" height="24" fill="#bcc0c1"/><ellipse cx="6" cy="36" rx="10" ry="12" fill="#a5882e"/><ellipse cx="56" cy="36" rx="14" ry="12" fill="#2c4848"/><ellipse cx="12" cy="52" rx="10" ry="10" fill="#3c4a44"/><ellipse cx="58" cy="22" rx="10" ry="5" fill="#e2e4e4"/><ellipse cx="54" cy="34" rx="5" ry="3" fill="#c9a22e"/></g>
<g filter="url(#fT)"><path d="M6 66C8 56 18 51.500 32 51.500C46 51.500 55 56 59 66Z" fill="#6d8ca6"/>
<path d="M10 62l4-4M18 64l5-6M40 66l5-7M48 62l4-5M26 62l2-5M34 64l3-5M53 66l3-5" stroke="#dfe6ec" stroke-width="1.700"/>
<path d="M25 47h12v7l-6 5-6-5z" fill="#c79074"/>
<path d="M16 36C14 46 17 50 20 52L21 38ZM46 36C49 44 47 50 44 52L43 38Z" fill="#8a6644"/>
<ellipse cx="31" cy="35.500" rx="13" ry="16" fill="#d29d80"/>
<path d="M18.500 40C19 50 25 53 31 53C37 53 43 50 43.500 40C41 45 36 46 31 46C26 46 21 45 18.500 40Z" fill="#8d6148"/>
<path d="M16 27C13 14 22 8.500 31 9C40 8.500 48 13 46 27C44 23 40 21 31 21.500C23 21 18 23 16 27Z" fill="#22201f"/>
<path d="M26 39.500C29 41 34 41 37 39.500C36.500 43 34 44.300 31.500 44.300C29 44.300 26.500 43 26 39.500Z" fill="#f6efe8"/>
<path d="M22.500 31h6M34.500 31h6" stroke="#4a3328" stroke-width="1.400"/></g></g></svg>
<svg style="left:1806.4px;top:928.2px;width:30px;height:66px" viewBox="0 0 30 66"><defs><clipPath id="cS"><circle cx="33" cy="33" r="33"/></clipPath><filter id="fS" x="-20%" y="-20%" width="140%" height="140%"><feGaussianBlur stdDeviation="0.55"/></filter><filter id="gS" x="-30%" y="-30%" width="160%" height="160%"><feGaussianBlur stdDeviation="3.5"/></filter></defs><g clip-path="url(#cS)"><rect width="66" height="66" fill="#f6f6f4"/>
<g filter="url(#gS)"><ellipse cx="9" cy="37" rx="10" ry="4" fill="#8f9692"/></g>
<g filter="url(#fS)"><path d="M9 60C8 40 12 18 30 15V66H14Z" fill="#2c1f1d"/>
<ellipse cx="31" cy="35" rx="7" ry="10" fill="#dba990"/>
<path d="M18 66C20 58 26 55 32 55V66Z" fill="#3f6f9c"/></g></g></svg>
<span class="t" style="left:1378.4px;top:1006.8px;font-size:18px;color:#687177;">Emery</span>
<span class="t" style="left:1465.4px;top:1006.8px;font-size:18px;color:#687177;letter-spacing:0.40px;">Carter</span>
<span class="t" style="left:1559.4px;top:1006.8px;font-size:18px;color:#687177;letter-spacing:0.24px;">Livia</span>
<span class="t" style="left:1648.9px;top:1006.8px;font-size:18px;color:#687177;letter-spacing:-0.50px;">Max</span>
<span class="t" style="left:1726.4px;top:1006.8px;font-size:18px;color:#687177;letter-spacing:0.40px;">Martin</span>
<span class="t" style="left:1811px;top:1006.8px;font-size:18px;width:24.5px;height:22px;overflow:hidden;color:#687177">Ab</span>
<div style="left:1371px;top:1056.7px;width:435px;height:67.3px;border-radius:34px;background:#1b9a10"></div>
<span class="t" style="left:1530.5px;top:1081.1px;font-size:20px;color:#fff;letter-spacing:0.41px;">Send Money</span>
<!-- transactions -->
<div class="card" style="left:401px;top:1185.4px;width:1436px;height:300px;overflow:hidden"><div style="left:0;top:93.7px;width:1435px;height:1.2px;background:#d9dcde"></div><div style="left:0;top:94.9px;width:1435px;height:200px;background:#f9f9f9"></div></div>
<span class="t" style="left:432.0px;top:1218.6px;font-size:20px;color:#000;letter-spacing:0.65px;-webkit-text-stroke:0.22px #000;">Transaction History</span>
<div class="pill" style="left:1572px;top:1208.4px;width:181.5px"></div>
<span class="t" style="left:1586.4px;top:1219.8px;font-size:17.5px;color:#000;letter-spacing:0.54px;-webkit-text-stroke:0.18px #000;">All Transaction</span>
<svg style="left:1722px;top:1224.5px;width:12.400px;height:8px;fill:none;stroke:#000;stroke-width:1.500;stroke-linecap:round;stroke-linejoin:round" viewBox="0 0 12.400 8"><path d="M1 1.800L6.200 6.800 11.400 1.800"/></svg>
<div class="dots" style="left:1773.6px;top:1208.4px"><i></i><i></i><i></i></div>
<div style="left:432px;top:1298px;width:25px;height:25px;border-radius:6.500px;border:1.500px solid #d3d7da;background:#fff"></div>
<span class="t" style="left:467.2px;top:1302.9px;font-size:17.5px;color:#687177;letter-spacing:0.17px;">Name</span>
<svg style="left:530.5px;top:1303.5px;width:11px;height:15px;fill:none;stroke:#222;stroke-width:1.5;stroke-linecap:round;stroke-linejoin:round" viewBox="0 0 11 15"><path d="M1.500 5.200L5.500 1.400l4 3.800M1.500 9.800l4 3.800 4-3.800"/></svg>
<span class="t" style="left:841.6px;top:1302.9px;font-size:17.5px;color:#687177;letter-spacing:0.16px;">Status</span>
<svg style="left:910.5px;top:1303.5px;width:11px;height:15px;fill:none;stroke:#222;stroke-width:1.5;stroke-linecap:round;stroke-linejoin:round" viewBox="0 0 11 15"><path d="M1.500 5.200L5.500 1.400l4 3.800M1.500 9.800l4 3.800 4-3.800"/></svg>
<span class="t" style="left:1048.8px;top:1302.9px;font-size:17.5px;color:#687177;letter-spacing:0.90px;">Amount</span>
<svg style="left:1130.5px;top:1303.5px;width:11px;height:15px;fill:none;stroke:#222;stroke-width:1.5;stroke-linecap:round;stroke-linejoin:round" viewBox="0 0 11 15"><path d="M1.500 5.200L5.500 1.400l4 3.800M1.500 9.800l4 3.800 4-3.800"/></svg>
<span class="t" style="left:1242.4px;top:1302.9px;font-size:17.5px;color:#687177;letter-spacing:0.69px;">Type</span>
<svg style="left:1294.5px;top:1303.5px;width:11px;height:15px;fill:none;stroke:#222;stroke-width:1.5;stroke-linecap:round;stroke-linejoin:round" viewBox="0 0 11 15"><path d="M1.500 5.200L5.500 1.400l4 3.800M1.500 9.800l4 3.800 4-3.800"/></svg>
<span class="t" style="left:1445.6px;top:1302.9px;font-size:17.5px;color:#687177;letter-spacing:0.48px;">Date</span>
<svg style="left:1498.5px;top:1303.5px;width:11px;height:15px;fill:none;stroke:#222;stroke-width:1.5;stroke-linecap:round;stroke-linejoin:round" viewBox="0 0 11 15"><path d="M1.500 5.200L5.500 1.400l4 3.800M1.500 9.800l4 3.800 4-3.800"/></svg>
<span class="t" style="left:1741.6px;top:1302.9px;font-size:17.5px;color:#687177;letter-spacing:0.70px;">Actions</span>
</div></div>
</body>
</html>
